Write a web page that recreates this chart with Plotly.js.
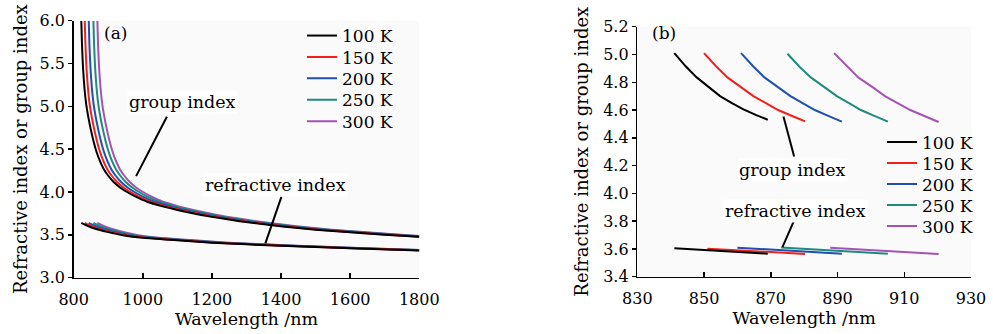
<!DOCTYPE html>
<html>
<head>
<meta charset="utf-8">
<script src="https://cdn.plot.ly/plotly-3.0.1.min.js"></script>
<style>html,body{margin:0;padding:0;background:#fff;}#chart{width:993px;height:334px;}</style>
</head>
<body>
<div id="chart"></div>
<script>
const temps = ['100 K', '150 K', '200 K', '250 K', '300 K'];
const colors = ['#000000', '#f2201c', '#1f4fb0', '#1f8a7c', '#a453b3'];

// ---------- Panel (a) : group index ----------
const aGroupX100 = [822, 824, 827, 831, 836, 842, 849, 857, 866, 876, 888, 900, 915, 935, 963, 990, 1012, 1060, 1100, 1137, 1200, 1280, 1398, 1500, 1600, 1700, 1800];
const aGroupY100 = [6.00, 5.72, 5.45, 5.22, 5.03, 4.88, 4.74, 4.60, 4.47, 4.36, 4.26, 4.19, 4.12, 4.05, 3.98, 3.925, 3.886, 3.83, 3.79, 3.757, 3.71, 3.66, 3.60, 3.56, 3.53, 3.50, 3.477];
const aGroupX150 = [832, 834, 837, 841, 846, 852, 859, 867, 876, 886, 898, 910, 925, 945, 973, 1000, 1022, 1070, 1110, 1147, 1210, 1290, 1408, 1510, 1610, 1710, 1800];
const aGroupY150 = [6.00, 5.72, 5.45, 5.22, 5.03, 4.88, 4.74, 4.60, 4.47, 4.36, 4.26, 4.19, 4.12, 4.05, 3.98, 3.925, 3.886, 3.83, 3.79, 3.757, 3.71, 3.66, 3.60, 3.56, 3.53, 3.50, 3.479];
const aGroupX200 = [843.5, 845.5, 848.5, 852.5, 857.5, 863.5, 870.5, 878.5, 887.5, 897.5, 909.5, 921.5, 936.5, 956.5, 984.5, 1011.5, 1033.5, 1081.5, 1121.5, 1158.5, 1221.5, 1301.5, 1419.5, 1521.5, 1621.5, 1721.5, 1800];
const aGroupY200 = [6.00, 5.72, 5.45, 5.22, 5.03, 4.88, 4.74, 4.60, 4.47, 4.36, 4.26, 4.19, 4.12, 4.05, 3.98, 3.925, 3.886, 3.83, 3.79, 3.757, 3.71, 3.66, 3.60, 3.56, 3.53, 3.50, 3.482];
const aGroupX250 = [857, 859, 862, 866, 871, 877, 884, 892, 901, 911, 923, 935, 950, 970, 998, 1025, 1047, 1095, 1135, 1172, 1235, 1315, 1433, 1535, 1635, 1735, 1800];
const aGroupY250 = [6.00, 5.72, 5.45, 5.22, 5.03, 4.88, 4.74, 4.60, 4.47, 4.36, 4.26, 4.19, 4.12, 4.05, 3.98, 3.925, 3.886, 3.83, 3.79, 3.757, 3.71, 3.66, 3.60, 3.56, 3.53, 3.50, 3.485];
const aGroupX300 = [868.5, 870.5, 873.5, 877.5, 882.5, 888.5, 895.5, 903.5, 912.5, 922.5, 934.5, 946.5, 961.5, 981.5, 1009.5, 1036.5, 1058.5, 1106.5, 1146.5, 1183.5, 1246.5, 1326.5, 1444.5, 1546.5, 1646.5, 1746.5, 1800];
const aGroupY300 = [6.00, 5.72, 5.45, 5.22, 5.03, 4.88, 4.74, 4.60, 4.47, 4.36, 4.26, 4.19, 4.12, 4.05, 3.98, 3.925, 3.886, 3.83, 3.79, 3.757, 3.71, 3.66, 3.60, 3.56, 3.53, 3.50, 3.488];

// ---------- Panel (a) : refractive index ----------
const aRefX100 = [822, 840, 860, 897, 950, 1000, 1079, 1200, 1400, 1600, 1800];
const aRefY100 = [3.640, 3.605, 3.575, 3.535, 3.490, 3.465, 3.442, 3.408, 3.372, 3.343, 3.318];
const aRefX150 = [832, 850, 870, 907, 960, 1010, 1089, 1210, 1410, 1610, 1800];
const aRefY150 = [3.640, 3.605, 3.575, 3.535, 3.490, 3.465, 3.442, 3.408, 3.372, 3.343, 3.319];
const aRefX200 = [843.5, 861.5, 881.5, 918.5, 971.5, 1021.5, 1100.5, 1221.5, 1421.5, 1621.5, 1800];
const aRefY200 = [3.640, 3.605, 3.575, 3.535, 3.490, 3.465, 3.442, 3.408, 3.372, 3.343, 3.321];
const aRefX250 = [857, 875, 895, 932, 985, 1035, 1114, 1235, 1435, 1635, 1800];
const aRefY250 = [3.640, 3.605, 3.575, 3.535, 3.490, 3.465, 3.442, 3.408, 3.372, 3.343, 3.322];
const aRefX300 = [868.5, 886.5, 906.5, 943.5, 996.5, 1046.5, 1125.5, 1246.5, 1446.5, 1646.5, 1800];
const aRefY300 = [3.640, 3.605, 3.575, 3.535, 3.490, 3.465, 3.442, 3.408, 3.372, 3.343, 3.324];

// ---------- Panel (b) : group index ----------
const bGroupX100 = [841.1, 844.5, 847.8, 851.5, 854.8, 858.5, 861.8, 865.5, 869.1];
const bGroupY100 = [5.010, 4.915, 4.835, 4.763, 4.700, 4.648, 4.605, 4.565, 4.530];
const bGroupX150 = [850.0, 853.6, 857.0, 861.2, 864.8, 868.8, 872.2, 876.4, 880.3];
const bGroupY150 = [5.010, 4.915, 4.835, 4.763, 4.700, 4.646, 4.600, 4.557, 4.518];
const bGroupX200 = [861.1, 864.7, 868.1, 872.3, 875.9, 879.8, 883.2, 887.4, 891.3];
const bGroupY200 = [5.010, 4.915, 4.835, 4.763, 4.700, 4.646, 4.600, 4.556, 4.516];
const bGroupX250 = [875.0, 878.6, 882.0, 886.1, 889.8, 893.7, 897.0, 901.2, 905.1];
const bGroupY250 = [5.005, 4.912, 4.835, 4.763, 4.700, 4.646, 4.600, 4.556, 4.516];
const bGroupX300 = [889.0, 892.8, 896.2, 900.6, 904.2, 908.4, 911.8, 916.2, 920.3];
const bGroupY300 = [5.010, 4.915, 4.835, 4.763, 4.700, 4.645, 4.600, 4.555, 4.514];

// ---------- Panel (b) : refractive index ----------
const bRefX100 = [841.1, 855.0, 869.1];
const bRefY100 = [3.604, 3.583, 3.566];
const bRefX150 = [851.0, 865.6, 880.3];
const bRefY150 = [3.602, 3.581, 3.564];
const bRefX200 = [860.0, 875.6, 891.3];
const bRefY200 = [3.609, 3.586, 3.566];
const bRefX250 = [873.1, 889.1, 905.1];
const bRefY250 = [3.611, 3.587, 3.566];
const bRefX300 = [887.8, 904.0, 920.3];
const bRefY300 = [3.609, 3.585, 3.564];

// tick values
const aXTicks = [800, 1000, 1200, 1400, 1600, 1800];
const aYTicks = [3.0, 3.5, 4.0, 4.5, 5.0, 5.5, 6.0];
const bXTicks = [830, 850, 870, 890, 910, 930];
const bYTicks = [3.4, 3.6, 3.8, 4.0, 4.2, 4.4, 4.6, 4.8, 5.0, 5.2];

const aGroup = [[aGroupX100, aGroupY100], [aGroupX150, aGroupY150], [aGroupX200, aGroupY200], [aGroupX250, aGroupY250], [aGroupX300, aGroupY300]];
const aRef = [[aRefX100, aRefY100], [aRefX150, aRefY150], [aRefX200, aRefY200], [aRefX250, aRefY250], [aRefX300, aRefY300]];
const bGroup = [[bGroupX100, bGroupY100], [bGroupX150, bGroupY150], [bGroupX200, bGroupY200], [bGroupX250, bGroupY250], [bGroupX300, bGroupY300]];
const bRef = [[bRefX100, bRefY100], [bRefX150, bRefY150], [bRefX200, bRefY200], [bRefX250, bRefY250], [bRefX300, bRefY300]];

const FONT = 'DejaVu Serif, Liberation Serif, serif';
const INK = '#000';
const W = 993, H = 334;
const px = v => v / W, py = v => 1 - v / H;

const splineLine = c => ({color: c, width: 2, shape: 'spline', smoothing: 0.5});
const plainLine = c => ({color: c, width: 2, shape: 'linear'});
const traces = [];
for (let i = temps.length - 1; i >= 0; i--) {
  traces.push({x: aRef[i][0], y: aRef[i][1], xaxis: 'x', yaxis: 'y', mode: 'lines', line: splineLine(colors[i]), showlegend: false, hoverinfo: 'skip'});
  traces.push({x: bRef[i][0], y: bRef[i][1], xaxis: 'x2', yaxis: 'y2', mode: 'lines', line: plainLine(colors[i]), showlegend: false, hoverinfo: 'skip'});
}
const legendNames = ['legend', 'legend2', 'legend3', 'legend4', 'legend5', 'legend6', 'legend7', 'legend8', 'legend9', 'legend10'];
for (let i = temps.length - 1; i >= 0; i--) {
  traces.push({x: aGroup[i][0], y: aGroup[i][1], xaxis: 'x', yaxis: 'y', name: temps[i], mode: 'lines', line: splineLine(colors[i]), legend: legendNames[i]});
}
for (let i = temps.length - 1; i >= 0; i--) {
  traces.push({x: bGroup[i][0], y: bGroup[i][1], xaxis: 'x2', yaxis: 'y2', name: temps[i], mode: 'lines', line: plainLine(colors[i]), legend: legendNames[5 + i]});
}

const axisCommon = {
  showline: true, linecolor: INK, linewidth: 1.5, showgrid: false, zeroline: false,
  tickcolor: INK, tickwidth: 1.5, tickfont: {family: FONT, size: 16, color: INK},
  mirror: false, automargin: false, fixedrange: true
};
const titleFont = s => ({family: FONT, size: s, color: INK});

const layout = {
  width: W, height: H,
  margin: {l: 0, r: 0, t: 0, b: 0},
  paper_bgcolor: '#ffffff',
  plot_bgcolor: '#fafafa',
  font: {family: FONT, size: 16, color: INK},
  xaxis: Object.assign({}, axisCommon, {
    domain: [px(73.7), px(419.3)], anchor: 'y', range: [800, 1800],
    tickvals: aXTicks, ticktext: aXTicks.map(String), ticks: 'inside', ticklen: 5, ticklabelstandoff: 7,
    title: {text: 'Wavelength /nm', font: titleFont(17.5), standoff: 1}
  }),
  yaxis: Object.assign({}, axisCommon, {
    domain: [py(277.7), py(20.7)], anchor: 'x', range: [3, 6],
    tickvals: aYTicks, ticktext: aYTicks.map(v => v.toFixed(1)), ticks: 'outside', ticklen: 4,
    title: {text: 'Refractive index or group index', font: titleFont(18), standoff: 7}
  }),
  xaxis2: Object.assign({}, axisCommon, {
    domain: [px(637.3), px(971)], anchor: 'y2', range: [830, 930],
    tickvals: bXTicks, ticktext: bXTicks.map(String), ticks: 'inside', ticklen: 5, ticklabelstandoff: 7,
    title: {text: 'Wavelength /nm', font: titleFont(17.5), standoff: 1}
  }),
  yaxis2: Object.assign({}, axisCommon, {
    domain: [py(276.7), py(26.7)], anchor: 'x2', range: [3.4, 5.2],
    tickvals: bYTicks, ticktext: bYTicks.map(v => v.toFixed(1)), ticks: 'outside', ticklen: 4,
    title: {text: 'Refractive index or group index', font: titleFont(18), standoff: 10}
  }),
  annotations: [
    {text: '(a)', xref: 'paper', yref: 'paper', x: px(115.7), y: py(33.3), xanchor: 'center', yanchor: 'middle', showarrow: false, font: titleFont(17)},
    {text: '(b)', xref: 'paper', yref: 'paper', x: px(664), y: py(33.3), xanchor: 'center', yanchor: 'middle', showarrow: false, font: titleFont(17)},
    {text: 'group index', xref: 'x', yref: 'y', x: 1114, y: 5.054, xanchor: 'center', yanchor: 'middle', showarrow: false, font: titleFont(17.5), bgcolor: '#ffffff'},
    {text: 'refractive index', xref: 'x', yref: 'y', x: 1384, y: 4.081, xanchor: 'center', yanchor: 'middle', showarrow: false, font: titleFont(17.5), bgcolor: '#ffffff'},
    {text: 'group index', xref: 'x2', yref: 'y2', x: 876.4, y: 4.169, xanchor: 'center', yanchor: 'middle', showarrow: false, font: titleFont(17.5), bgcolor: '#ffffff'},
    {text: 'refractive index', xref: 'x2', yref: 'y2', x: 877.3, y: 3.876, xanchor: 'center', yanchor: 'middle', showarrow: false, font: titleFont(17.5), bgcolor: '#ffffff'}
  ],
  shapes: [
    {type: 'line', xref: 'x', yref: 'y', x0: 1069.6, y0: 4.879, x1: 980.6, y1: 4.186, line: {color: INK, width: 2}},
    {type: 'line', xref: 'x', yref: 'y', x0: 1401, y0: 3.944, x1: 1354.6, y1: 3.40, line: {color: INK, width: 2}},
    {type: 'line', xref: 'x2', yref: 'y2', x0: 873.8, y0: 4.553, x1: 877.0, y1: 4.265, line: {color: INK, width: 2}},
    {type: 'line', xref: 'x2', yref: 'y2', x0: 877.3, y0: 3.822, x1: 873.5, y1: 3.613, line: {color: INK, width: 2}}
  ]
};

// one legend box per entry so rows sit at the reference spacing
const aRows = [36, 57.4, 78.8, 100.2, 121.6];
const bRows = [142.5, 163.5, 184.5, 205.5, 226.5];
for (let i = 0; i < 5; i++) {
  layout[legendNames[i]] = {x: px(302), y: py(aRows[i]), xanchor: 'left', yanchor: 'middle', bgcolor: 'rgba(0,0,0,0)', font: titleFont(17), itemwidth: 30};
  layout[legendNames[5 + i]] = {x: px(882), y: py(bRows[i]), xanchor: 'left', yanchor: 'middle', bgcolor: 'rgba(0,0,0,0)', font: titleFont(17), itemwidth: 30};
}

Plotly.newPlot('chart', traces, layout, {displayModeBar: false, staticPlot: true});
</script>
</body>
</html>
